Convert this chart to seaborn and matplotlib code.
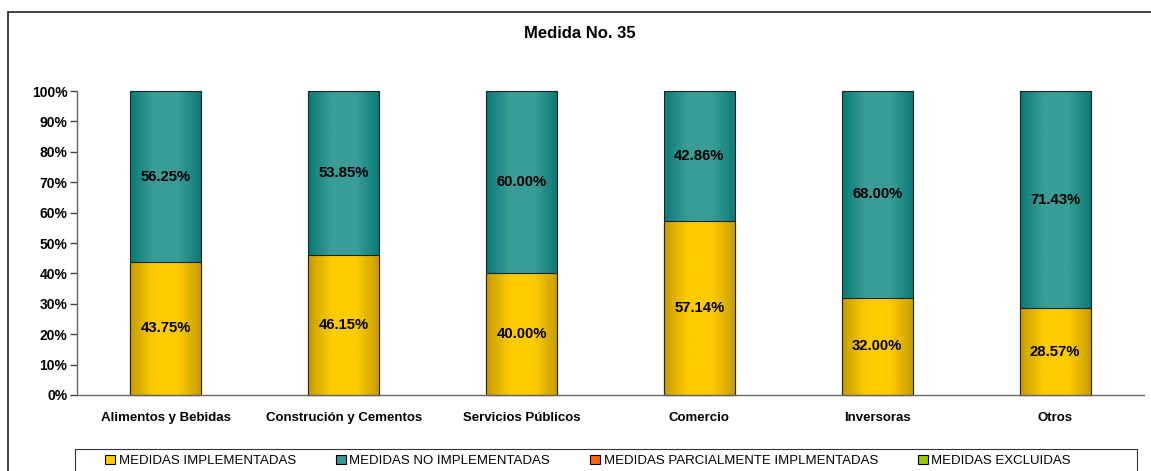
import numpy as np
import pandas as pd
import matplotlib
matplotlib.use("Agg")
import matplotlib.pyplot as plt
import seaborn as sns
from matplotlib.colors import LinearSegmentedColormap
from matplotlib.patches import Patch, Rectangle

# Data
categories = ["Alimentos y Bebidas", "Construción y Cementos", "Servicios Públicos",
              "Comercio", "Inversoras", "Otros"]
implementadas = [43.75, 46.15, 40.00, 57.14, 32.00, 28.57]
no_implementadas = [56.25, 53.85, 60.00, 42.86, 68.00, 71.43]
series_names = ["MEDIDAS IMPLEMENTADAS", "MEDIDAS NO IMPLEMENTADAS",
                "MEDIDAS PARCIALMENTE IMPLMENTADAS", "MEDIDAS EXCLUIDAS"]
series_colors = ["#ffcc00", "#339999", "#ff6600", "#99cc00"]

df = pd.DataFrame({"sector": categories, "impl": implementadas, "no_impl": no_implementadas})
df["total"] = df["impl"] + df["no_impl"]

sns.set_style("white")
plt.rcParams["font.family"] = ["Liberation Sans", "DejaVu Sans"]
plt.rcParams["text.color"] = "black"
plt.rcParams["xtick.color"] = "black"
plt.rcParams["ytick.color"] = "black"

fig = plt.figure(figsize=(11.51, 4.71), dpi=100)
ax = fig.add_axes([77 / 1151, 1 - 395 / 471, (1144 - 77) / 1151, (395 - 91) / 471])

# Stacked: full bar (teal) first, then implemented (yellow) over it
sns.barplot(data=df, x="sector", y="total", color="#339999", width=0.4,
            errorbar=None, edgecolor="#222222", linewidth=0.8, ax=ax)
n_teal = len(ax.patches)
sns.barplot(data=df, x="sector", y="impl", color="#ffcc00", width=0.4,
            errorbar=None, edgecolor="#222222", linewidth=0.8, ax=ax)

# gradient fills like the original shading
teal_cmap = LinearSegmentedColormap.from_list("t", ["#0b7a76", "#3a9d98", "#3a9d98", "#0b7a76"])
gold_cmap = LinearSegmentedColormap.from_list("g", ["#c49c00", "#ffcc00", "#ffcc00", "#c49c00"])
grad = np.linspace(0, 1, 256).reshape(1, -1)
for i, p in enumerate(ax.patches):
    cmap = teal_cmap if i < n_teal else gold_cmap
    base = 1 if i < n_teal else 3
    x0, y0 = p.get_x(), p.get_y()
    w, h = p.get_width(), p.get_height()
    p.set_facecolor("none")
    p.set_zorder(base + 0.5)
    p.set_clip_on(False)
    im = ax.imshow(grad, cmap=cmap, extent=(x0, x0 + w, y0, y0 + h),
                   aspect="auto", zorder=base, interpolation="bicubic")
    im.set_clip_path(p)

# value labels in the middle of each segment
for i in range(len(categories)):
    ax.text(i, implementadas[i] / 2, f"{implementadas[i]:.2f}%", ha="center", va="center",
            fontsize=10.7, fontweight="bold", zorder=6)
    ax.text(i, implementadas[i] + no_implementadas[i] / 2, f"{no_implementadas[i]:.2f}%",
            ha="center", va="center", fontsize=10.7, fontweight="bold", zorder=6)

ax.set_xlim(-0.5, len(categories) - 0.5)
ax.set_ylim(0, 100)
ax.set_yticks(range(0, 101, 10))
ax.set_yticklabels([f"{v}%" for v in range(0, 101, 10)], fontsize=10, fontweight="bold")
ax.set_xticks(range(len(categories)))
ax.set_xticklabels(categories, fontsize=9.5, fontweight="bold")
ax.set_xticks(np.arange(-0.5, len(categories)), minor=True)
ax.tick_params(axis="x", which="major", length=0, pad=12)
ax.tick_params(axis="x", which="minor", length=5, width=1, color="#444444", direction="out")
ax.tick_params(axis="y", length=5, width=1, color="#444444", direction="out", left=True, pad=2)
ax.set_xlabel("")
ax.set_ylabel("")
for s in ["top", "right"]:
    ax.spines[s].set_visible(False)
for s in ["left", "bottom"]:
    ax.spines[s].set_color("#666666")
    ax.spines[s].set_linewidth(1)
    ax.spines[s].set_zorder(7)

fig.text(580 / 1151, 1 - 33 / 471, "Medida No. 35", ha="center", va="center",
         fontsize=12, fontweight="bold")

# legend: entries centred inside a wide box
handles = [Patch(facecolor=c, edgecolor="black", linewidth=0.8) for c in series_colors]
leg = fig.legend(handles, series_names, loc="center", ncol=4,
                 bbox_to_anchor=(588 / 1151, 1 - 461 / 471),
                 fontsize=9.5, frameon=False, handlelength=0.75, handleheight=0.75,
                 handletextpad=0.3, columnspacing=3.0, borderaxespad=0, borderpad=0)
fig.patches.append(Rectangle((75 / 1151, -0.1), (1137 - 75) / 1151, 0.1 + 1 - 449 / 471,
                             transform=fig.transFigure, fill=False,
                             edgecolor="#333333", linewidth=0.8))

# outer chart-area frame (crop of a larger chart)
fig.patches.append(Rectangle((8 / 1151, -0.2), 1.2, 1.2 - 12 / 471, transform=fig.transFigure,
                             fill=False, edgecolor="#222222", linewidth=1.2))

fig.savefig("out.png", dpi=100)
